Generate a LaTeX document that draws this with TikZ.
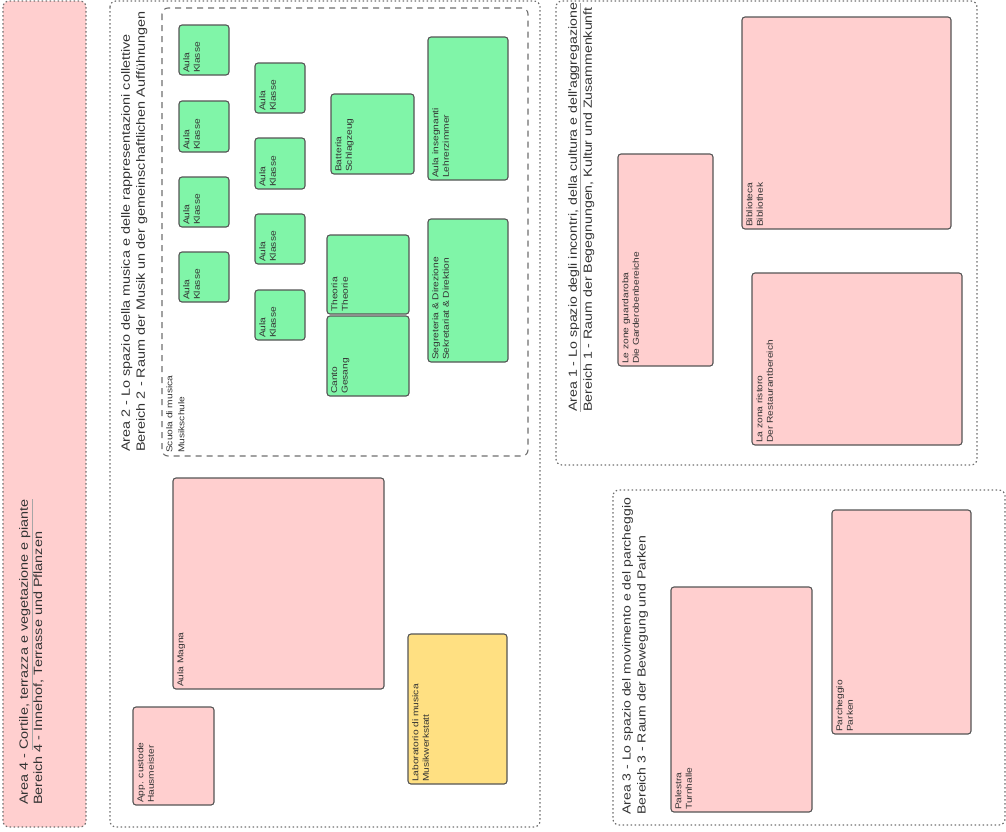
\documentclass[tikz,border=0pt]{standalone}
\usepackage{fontspec}
\setmainfont{Liberation Sans}
\newfontfamily\planfont[FakeStretch=1.2]{Liberation Sans}
\newcommand{\titlefont}[1]{\planfont\fontsize{#1}{15}\selectfont}
\newcommand{\labelfont}{\planfont\fontsize{8.5}{10.5}\selectfont}
\newcommand{\grayul}[1]{{\color{gray!70}\underline{\textcolor{black!80}{#1}}}}
\definecolor{roompink}{HTML}{FFCFCF}
\definecolor{roomgreen}{HTML}{80F5A8}
\definecolor{roomyellow}{HTML}{FFE082}
\definecolor{roomedge}{HTML}{555555}
\definecolor{areaedge}{HTML}{6E6E6E}
\tikzset{
  room/.style={draw=roomedge, line width=1.1pt, rounded corners=3pt},
  pinkroom/.style={room, fill=roompink},
  greenroom/.style={room, fill=roomgreen},
  yellowroom/.style={room, fill=roomyellow},
  area/.style={draw=areaedge, line width=1.2pt, dash pattern=on 1.5pt off 2.5pt, rounded corners=6pt},
  school/.style={draw=areaedge, line width=1.1pt, dash pattern=on 6pt off 5pt, rounded corners=6pt},
  roomlabel/.style={rotate=90, anchor=north west, align=left, inner sep=2pt, font=\labelfont, text=black!80},
  arealabel/.style={rotate=90, anchor=north west, align=left, inner sep=2pt, text=black!80}
}
\begin{document}
\begin{tikzpicture}[x=1pt, y=-1pt]
\useasboundingbox (0,0) rectangle (1006,831);
% areas
\draw[area, fill=roompink] (3,1) rectangle (86,827);
\draw[area] (110,1) rectangle (540,827);
\draw[area] (556,1) rectangle (977,465);
\draw[area] (613,490) rectangle (1005,825);
\draw[school] (162,8) rectangle (528,456);
\node[arealabel, font={\planfont\fontsize{12}{13}\selectfont}] (area4) at (17,807) {Area 4 - \grayul{Cortile, terrazza e vegetazione e piante}\\Bereich 4 - Innehof, Terrasse und Pflanzen};
\node[arealabel, font=\titlefont{12}] (area2) at (119,454) {Area 2 - Lo spazio della musica e delle rappresentazioni collettive\\Bereich 2 - Raum der Musik un der gemeinschaftlichen Aufführungen};
\node[arealabel, font=\titlefont{11.8}] (area1) at (566,414) {\grayul{Area 1 - Lo spazio degli incontri, della cultura e dell'aggregazione}\\Bereich 1 - Raum der Begegnungen, Kultur und Zusammenkunft};
\node[arealabel, font=\titlefont{11.7}] (area3) at (620,817) {Area 3 - Lo spazio del movimento e del parcheggio\\Bereich 3 - Raum der Bewegung und Parken};
\node[roomlabel, font={\planfont\fontsize{8.5}{12}\selectfont}] (school) at (164,455) {Scuola di musica\\Musikschule};
% music school
\draw[greenroom] (179,25) rectangle (229,75);
\node[roomlabel] (aula1) at (181,75) {Aula\\Klasse};
\draw[greenroom] (179,101) rectangle (229,152);
\node[roomlabel] (aula2) at (181,152) {Aula\\Klasse};
\draw[greenroom] (179,177) rectangle (229,227);
\node[roomlabel] (aula3) at (181,227) {Aula\\Klasse};
\draw[greenroom] (179,252) rectangle (229,302);
\node[roomlabel] (aula4) at (181,302) {Aula\\Klasse};
\draw[greenroom] (255,63) rectangle (305,113);
\node[roomlabel] (aula5) at (257,113) {Aula\\Klasse};
\draw[greenroom] (255,138) rectangle (305,189);
\node[roomlabel] (aula6) at (257,189) {Aula\\Klasse};
\draw[greenroom] (255,214) rectangle (305,264);
\node[roomlabel] (aula7) at (257,264) {Aula\\Klasse};
\draw[greenroom] (255,290) rectangle (305,340);
\node[roomlabel] (aula8) at (257,340) {Aula\\Klasse};
\draw[greenroom] (331,94) rectangle (414,174);
\node[roomlabel] (drums) at (333,174) {Batteria\\Schlagzeug};
\draw[greenroom] (327,235) rectangle (409,314);
\node[roomlabel] (theory) at (329,314) {Theoria\\Theorie};
\draw[greenroom] (327,316) rectangle (409,396);
\node[roomlabel] (singing) at (329,396) {Canto\\Gesang};
\draw[greenroom] (428,37) rectangle (508,180);
\node[roomlabel] (teachers) at (430,180) {Aula insegnanti\\Lehrerzimmer};
\draw[greenroom] (428,219) rectangle (508,362);
\node[roomlabel] (office) at (430,362) {Segreteria \& Direzione\\Sekretariat \& Direktion};
% area 2, lower part
\draw[pinkroom] (173,478) rectangle (384,689);
\node[roomlabel] (hall) at (175,689) {Aula Magna};
\draw[pinkroom] (133,707) rectangle (214,805);
\node[roomlabel] (caretaker) at (135,805) {App. custode\\Hausmeister};
\draw[yellowroom] (408,634) rectangle (507,784);
\node[roomlabel] (workshop) at (410,784) {Laboratorio di musica\\Musikwerkstatt};
% area 1
\draw[pinkroom] (618,154) rectangle (713,366);
\node[roomlabel] (cloakroom) at (620,366) {Le zone guardaroba\\Die Garderobenbereiche};
\draw[pinkroom] (742,17) rectangle (951,229);
\node[roomlabel] (library) at (744,229) {Biblioteca\\Bibliothek};
\draw[pinkroom] (752,273) rectangle (962,445);
\node[roomlabel] (restaurant) at (754,445) {La zona ristoro\\Der Restaurantbereich};
% area 3
\draw[pinkroom] (671,587) rectangle (812,812);
\node[roomlabel] (gym) at (673,812) {Palestra\\Turnhalle};
\draw[pinkroom] (832,510) rectangle (971,734);
\node[roomlabel] (parking) at (834,734) {Parcheggio\\Parken};
\end{tikzpicture}
\end{document}
